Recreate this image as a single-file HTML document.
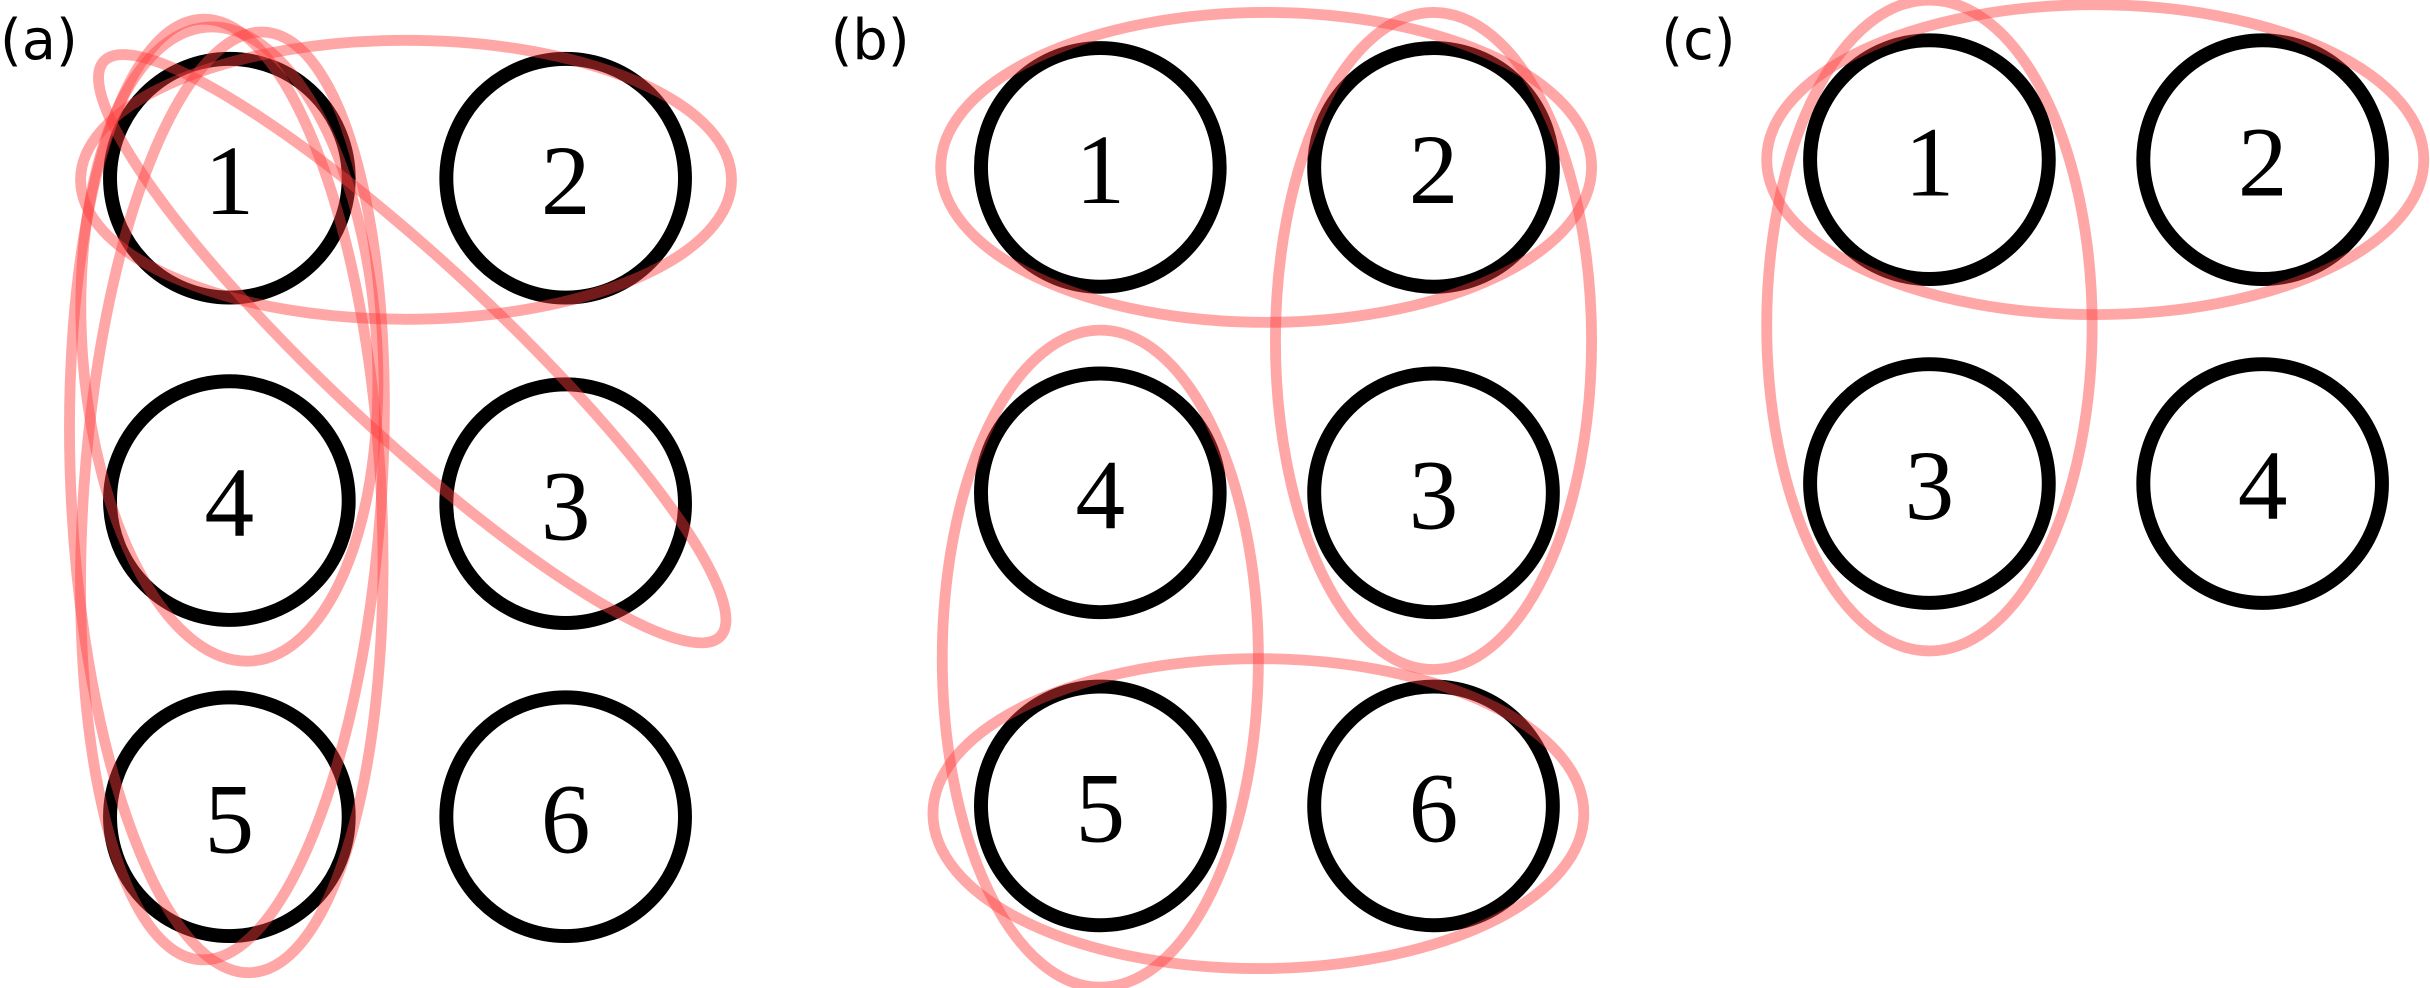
<!DOCTYPE html>
<html><head><meta charset="utf-8"><style>
html,body{margin:0;padding:0;background:#fff;}
svg{display:block}
</style></head><body>
<svg id="fig" width="2430" height="988" viewBox="0 0 1568 637.5" xmlns="http://www.w3.org/2000/svg"></svg>
<script>
const panelLabels = ["(a)", "(b)", "(c)"];
const panelLabelX = [0, 536, 1072];
const nodeLabelsA = ["1","2","4","3","5","6"];
const nodeXA = [148,365,148,365,148,365];
const nodeYA = [115,115,323,325,527,527];
const nodeLabelsB = ["1","2","4","3","5","6"];
const nodeXB = [710,925,710,925,710,925];
const nodeYB = [108,108,318,318,520,520];
const nodeLabelsC = ["1","2","3","4"];
const nodeXC = [1245,1460,1245,1460];
const nodeYC = [103,103,312,312];
// ellipses: cx, cy, rx, ry, rotation
const ellCX = [262,148,146,150,266, 817,925,710,812, 1352,1245];
const ellCY = [116,222,320,320,225, 108,220,425,525, 103,210];
const ellRX = [210,95,100,96,272, 210,102,102,210, 212,105];
const ellRY = [90,205,308,300,55, 100,212,212,100, 100,210];
const ellRot = [0,-4,-3,4,43, 0,0,0,0, 0,0];

const svg = document.getElementById('fig');
const NS = 'http://www.w3.org/2000/svg';
function mk(t){return document.createElementNS(NS,t);}

panelLabels.forEach((p,i)=>{
  const t = mk('text');
  
  
  t.setAttribute('x', panelLabelX[i]); t.setAttribute('y', 38);
  t.setAttribute('font-family','"DejaVu Sans", "Liberation Sans", sans-serif');
  t.setAttribute('font-size', 36);
  t.textContent = p;
  svg.appendChild(t);
});

function drawNodes(labels, xs, ys){
  labels.forEach((l,i)=>{
    const c = mk('circle');
    
    
    c.setAttribute('cx', xs[i]); c.setAttribute('cy', ys[i]); c.setAttribute('r', 77);
    c.setAttribute('fill','none'); c.setAttribute('stroke','#000'); c.setAttribute('stroke-width', 9);
    svg.appendChild(c);
    const t = mk('text');
    
    
    t.setAttribute('x', xs[i]); t.setAttribute('y', ys[i]+23);
    t.setAttribute('text-anchor','middle');
    t.setAttribute('font-family','"Liberation Serif", serif');
    t.setAttribute('font-size', 64);
    t.textContent = l;
    svg.appendChild(t);
  });
}
drawNodes(nodeLabelsA, nodeXA, nodeYA);
drawNodes(nodeLabelsB, nodeXB, nodeYB);
drawNodes(nodeLabelsC, nodeXC, nodeYC);

ellCX.forEach((cx,i)=>{
  const e = mk('ellipse');
  
  
  e.setAttribute('cx', cx); e.setAttribute('cy', ellCY[i]);
  e.setAttribute('rx', ellRX[i]); e.setAttribute('ry', ellRY[i]);
  e.setAttribute('transform', `rotate(${ellRot[i]} ${cx} ${ellCY[i]})`);
  e.setAttribute('fill','none'); e.setAttribute('stroke','rgba(255,60,60,0.45)'); e.setAttribute('stroke-width', 7);
  svg.appendChild(e);
});
</script>
</body></html>
